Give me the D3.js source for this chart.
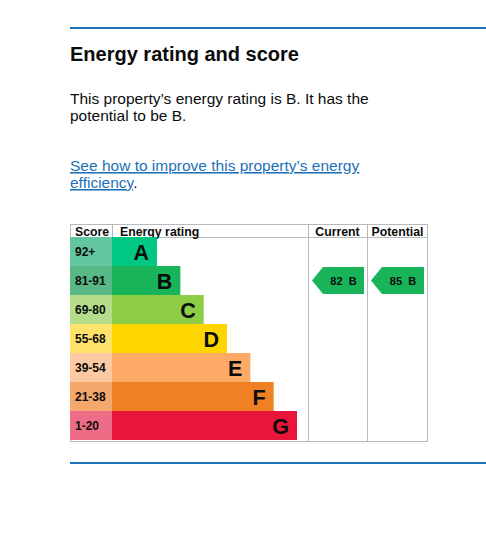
<!DOCTYPE html>
<html><head><meta charset="utf-8">
<script src="https://cdn.jsdelivr.net/npm/d3@7"></script>
<style>
html,body{margin:0;padding:0;background:#fff;}
svg{display:block;font-family:"Liberation Sans",Arial,sans-serif;}
</style></head>
<body>
<script>
const bands = ["A","B","C","D","E","F","G"];
const scoreRanges = ["92+","81-91","69-80","55-68","39-54","21-38","1-20"];
const barColors = ["#00c781","#19b459","#8dce46","#ffd500","#fcaa65","#ef8023","#e9153b"];
const scoreColors = ["#62c6a0","#58b987","#b4dc8a","#ffe26a","#fdc9a2","#f4a76a","#ef6c86"];
const currentScore = 82, currentBand = "B";
const potentialScore = 85, potentialBand = "B";
const headers = ["Score","Energy rating","Current","Potential"];

const W = 486, H = 557;
const svg = d3.select("body").append("svg").attr("width", W).attr("height", H);

// rules
const blue = "#1d70b8";
svg.append("line").attr("x1",70).attr("x2",486).attr("y1",28).attr("y2",28).attr("stroke",blue).attr("stroke-width",2);
svg.append("line").attr("x1",70).attr("x2",486).attr("y1",463).attr("y2",463).attr("stroke",blue).attr("stroke-width",2);

// texts
svg.append("text").attr("x",70).attr("y",61).attr("font-size",20).attr("font-weight","bold").attr("fill","#0b0c0c").text("Energy rating and score");
svg.append("text").attr("x",70).attr("y",104).attr("font-size",15.5).attr("fill","#0b0c0c").text("This property\u2019s energy rating is B. It has the");
svg.append("text").attr("x",70).attr("y",121).attr("font-size",15.5).attr("fill","#0b0c0c").text("potential to be B.");
svg.append("text").attr("x",70).attr("y",171).attr("font-size",15.5).attr("fill",blue).attr("text-decoration","underline").text("See how to improve this property\u2019s energy");
const l2 = svg.append("text").attr("x",70).attr("y",188).attr("font-size",15.5).attr("fill",blue);
l2.append("tspan").attr("text-decoration","underline").text("efficiency");
l2.append("tspan").attr("fill","#0b0c0c").text(".");

// table geometry
const tLeft = 70, tRight = 428, tTop = 224, headBottom = 237, tBottom = 442;
const colScore = 112, colCur = 308, colPot = 367;
const y = d3.scaleBand().domain(bands).range([headBottom, 440]).paddingInner(0);
const wScale = d3.scaleLinear().domain([0, bands.length-1]).range([45, 185]);
const grey = "#b8b9ba";

const g = svg.append("g");
g.append("rect").attr("x",tLeft+0.5).attr("y",tTop+0.5).attr("width",tRight-tLeft-1).attr("height",tBottom-tTop-1).attr("fill","none").attr("stroke",grey);
g.append("line").attr("x1",tLeft).attr("x2",tRight).attr("y1",headBottom+0.5).attr("y2",headBottom+0.5).attr("stroke",grey);
[colScore, colCur, colPot].forEach((x,i)=>{
  g.append("line").attr("x1",x+0.5).attr("x2",x+0.5).attr("y1",tTop).attr("y2", i===0?headBottom:tBottom).attr("stroke",grey);
});

const hx = [75, 120, (colCur+colPot)/2, (colPot+tRight)/2];
headers.forEach((h,i)=>{
  g.append("text").attr("x",hx[i]).attr("y",235.5).attr("font-size",12.3).attr("font-weight","bold")
   .attr("text-anchor", i>=2?"middle":"start").attr("fill","#0b0c0c").text(h);
});

bands.forEach((b,i)=>{
  const yy = y(b), hh = y.bandwidth();
  g.append("rect").attr("x",tLeft).attr("y",yy).attr("width",colScore-tLeft).attr("height",hh).attr("fill",scoreColors[i]);
  g.append("rect").attr("x",colScore).attr("y",yy).attr("width",wScale(i)).attr("height",hh).attr("fill",barColors[i]);
  g.append("text").attr("x",75).attr("y",yy+hh/2+4.5).attr("font-size",12).attr("font-weight","bold").attr("fill","#0b0c0c").text(scoreRanges[i]);
  g.append("text").attr("x",colScore+wScale(i)-8).attr("y",yy+hh/2+8).attr("font-size",21.5).attr("font-weight","bold")
   .attr("text-anchor","end").attr("fill","#0b0c0c").text(b);
});

function arrow(x0, x1, band, score) {
  const i = bands.indexOf(band);
  const yy = y(band)+1, hh = y.bandwidth()-2;
  const tip = 11;
  const pts = [[x0, yy+hh/2],[x0+tip, yy],[x1, yy],[x1, yy+hh],[x0+tip, yy+hh]];
  g.append("path").attr("d", d3.line()(pts)+"Z").attr("fill", barColors[i]);
  g.append("text").attr("x",(x0+tip+x1)/2).attr("y",yy+hh/2+4).attr("font-size",11).attr("font-weight","bold")
   .attr("text-anchor","middle").attr("fill","#0b0c0c").attr("xml:space","preserve").text(score+"  "+band);
}
arrow(312, 364, currentBand, currentScore);
arrow(371, 424, potentialBand, potentialScore);
</script>
</body></html>
